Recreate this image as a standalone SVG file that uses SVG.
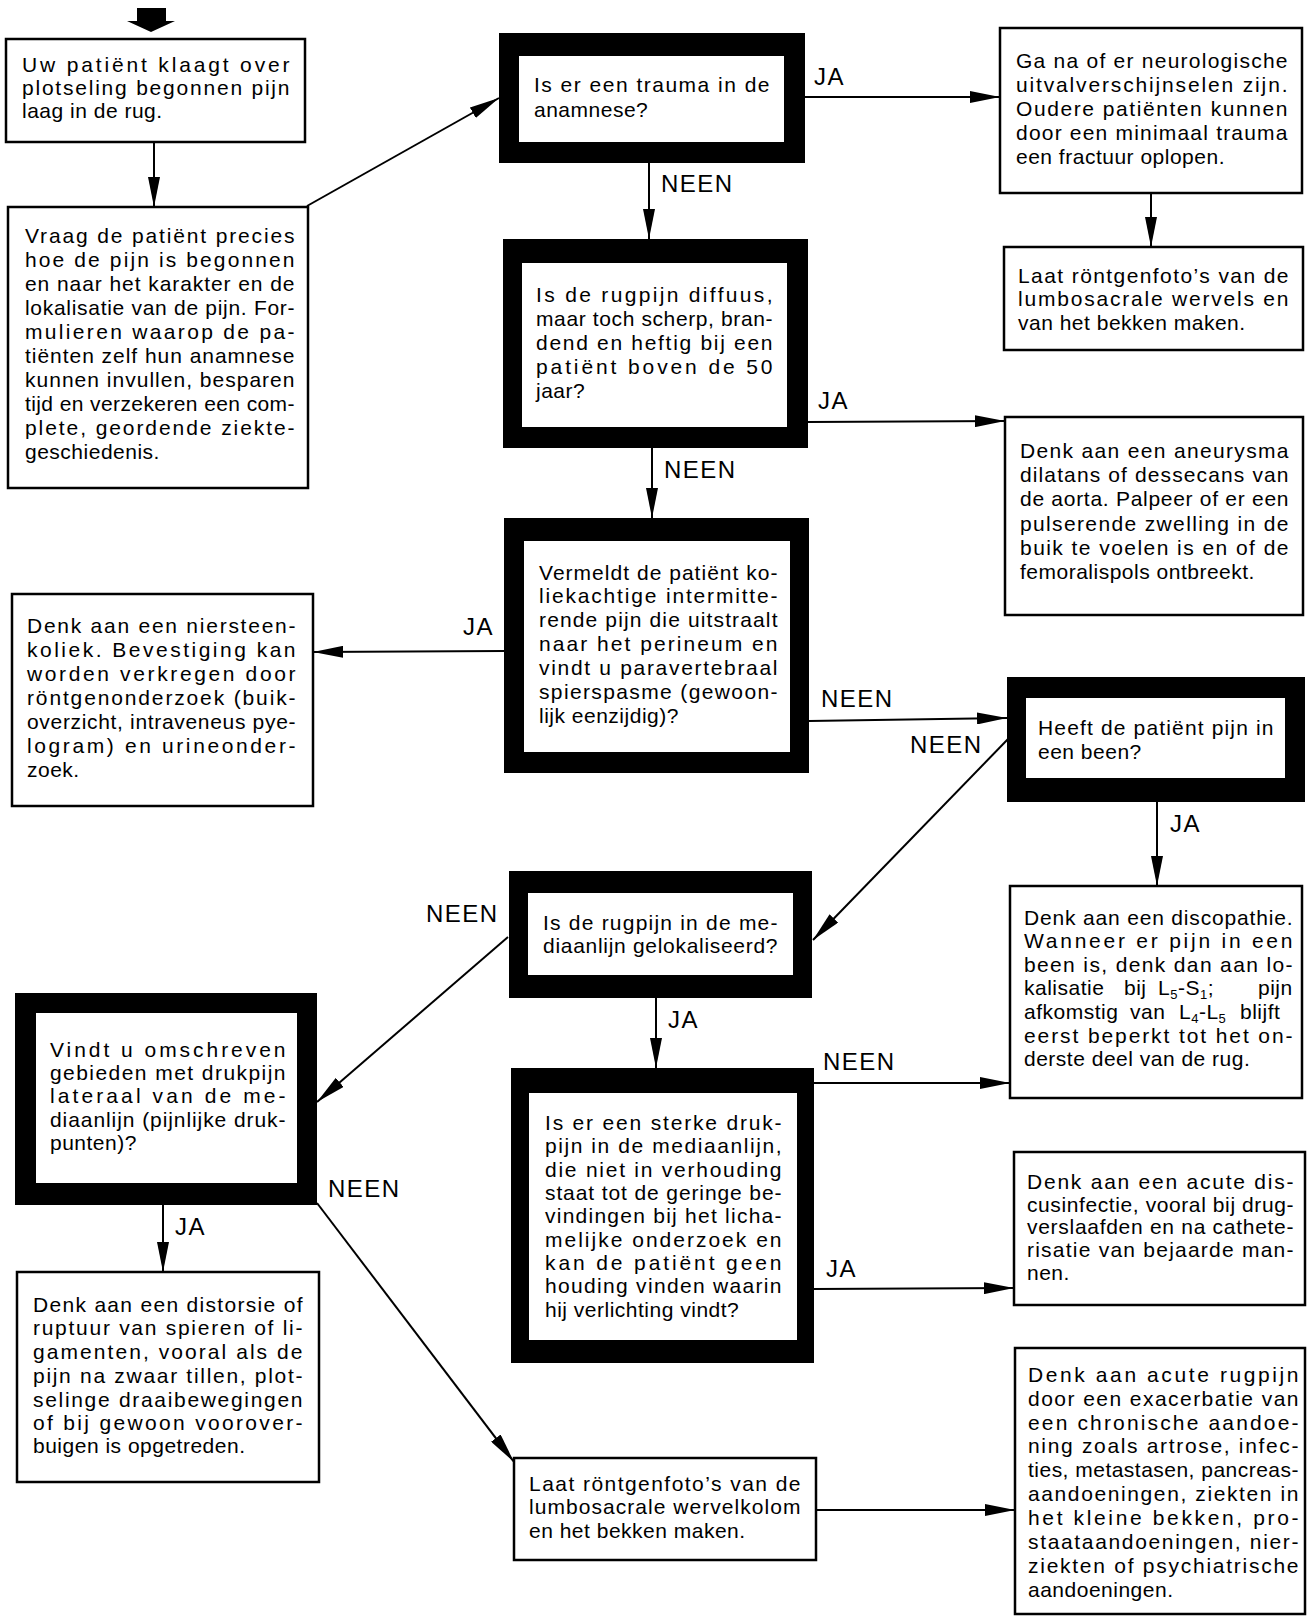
<svg xmlns="http://www.w3.org/2000/svg" width="1308" height="1617" viewBox="0 0 1308 1617">
<style>
.bg{fill:#fff}
.box{fill:#fff;stroke:#000;stroke-width:2.5}
.thk{fill:#000}
.inr{fill:#fff}
.t{font-family:"Liberation Sans",Arial,sans-serif;font-size:21px;letter-spacing:0.5px;fill:#000}
.lbl{font-family:"Liberation Sans",Arial,sans-serif;font-size:24px;letter-spacing:1.5px;fill:#000}
.sub{font-size:13px}
.c{stroke:#000;stroke-width:2;fill:none;marker-end:url(#ah)}
</style>
<defs>
<marker id="ah" markerUnits="userSpaceOnUse" markerWidth="30" markerHeight="12" refX="30" refY="6" orient="auto">
<path d="M0,0 L30,6 L0,12 z" fill="#000"/>
</marker>
</defs>
<rect class="bg" x="0" y="0" width="1308" height="1617"/>

<g id="start-arrow">
<polygon points="137,8 166,8 166,21 175,21 151,32 127,21 137,21" fill="#000"/>
</g>

<g id="connectors">
<line class="c" x1="154" y1="142" x2="154" y2="207"/>
<line class="c" x1="307" y1="206" x2="499" y2="98"/>
<line class="c" x1="805" y1="97" x2="1000" y2="97"/>
<line class="c" x1="1151" y1="193" x2="1151" y2="247"/>
<line class="c" x1="649" y1="163" x2="649" y2="239"/>
<line class="c" x1="808" y1="422" x2="1005" y2="421"/>
<line class="c" x1="652" y1="448" x2="652" y2="518"/>
<line class="c" x1="504" y1="651" x2="313" y2="652"/>
<line class="c" x1="809" y1="721" x2="1007" y2="718"/>
<line class="c" x1="1009" y1="738" x2="813" y2="940"/>
<line class="c" x1="1157" y1="802" x2="1157" y2="886"/>
<line class="c" x1="508" y1="937" x2="317" y2="1102"/>
<line class="c" x1="656" y1="998" x2="656" y2="1068"/>
<line class="c" x1="814" y1="1083" x2="1010" y2="1083"/>
<line class="c" x1="814" y1="1289" x2="1014" y2="1288"/>
<line class="c" x1="163" y1="1205" x2="163" y2="1272"/>
<line class="c" x1="317" y1="1203" x2="514" y2="1462"/>
<line class="c" x1="816" y1="1510" x2="1015" y2="1510"/>
</g>

<g id="labels">
<text class="lbl" x="814" y="85">JA</text>
<text class="lbl" x="661" y="192">NEEN</text>
<text class="lbl" x="818" y="409">JA</text>
<text class="lbl" x="664" y="478">NEEN</text>
<text class="lbl" x="463" y="635">JA</text>
<text class="lbl" x="821" y="707">NEEN</text>
<text class="lbl" x="910" y="753">NEEN</text>
<text class="lbl" x="1170" y="832">JA</text>
<text class="lbl" x="426" y="922">NEEN</text>
<text class="lbl" x="668" y="1028">JA</text>
<text class="lbl" x="823" y="1070">NEEN</text>
<text class="lbl" x="826" y="1277">JA</text>
<text class="lbl" x="175" y="1235">JA</text>
<text class="lbl" x="328" y="1197">NEEN</text>
</g>

<g id="n1">
<rect class="box" x="6" y="39" width="299" height="103"/>
<text class="t" x="22" y="72" textLength="268" lengthAdjust="spacing">Uw patiënt klaagt over</text>
<text class="t" x="22" y="95" textLength="268" lengthAdjust="spacing">plotseling begonnen pijn</text>
<text class="t" x="22" y="118">laag in de rug.</text>
</g>

<g id="n2">
<rect class="box" x="8" y="207" width="300" height="281"/>
<text class="t" x="25" y="243" textLength="270" lengthAdjust="spacing">Vraag de patiënt precies</text>
<text class="t" x="25" y="267" textLength="270" lengthAdjust="spacing">hoe de pijn is begonnen</text>
<text class="t" x="25" y="291" textLength="270" lengthAdjust="spacing">en naar het karakter en de</text>
<text class="t" x="25" y="315" textLength="270" lengthAdjust="spacing">lokalisatie van de pijn. For-</text>
<text class="t" x="25" y="339" textLength="270" lengthAdjust="spacing">mulieren waarop de pa-</text>
<text class="t" x="25" y="363" textLength="270" lengthAdjust="spacing">tiënten zelf hun anamnese</text>
<text class="t" x="25" y="387" textLength="270" lengthAdjust="spacing">kunnen invullen, besparen</text>
<text class="t" x="25" y="411" textLength="270" lengthAdjust="spacing">tijd en verzekeren een com-</text>
<text class="t" x="25" y="435" textLength="270" lengthAdjust="spacing">plete, geordende ziekte-</text>
<text class="t" x="25" y="459">geschiedenis.</text>
</g>

<g id="n3">
<rect class="thk" x="499" y="33" width="306" height="130"/>
<rect class="inr" x="519" y="56" width="265" height="86"/>
<text class="t" x="534" y="92" textLength="236" lengthAdjust="spacing">Is er een trauma in de</text>
<text class="t" x="534" y="117">anamnese?</text>
</g>

<g id="n4">
<rect class="box" x="1000" y="28" width="302" height="165"/>
<text class="t" x="1016" y="68" textLength="272" lengthAdjust="spacing">Ga na of er neurologische</text>
<text class="t" x="1016" y="92" textLength="272" lengthAdjust="spacing">uitvalverschijnselen zijn.</text>
<text class="t" x="1016" y="116" textLength="272" lengthAdjust="spacing">Oudere patiënten kunnen</text>
<text class="t" x="1016" y="140" textLength="272" lengthAdjust="spacing">door een minimaal trauma</text>
<text class="t" x="1016" y="164">een fractuur oplopen.</text>
</g>

<g id="n5">
<rect class="box" x="1004" y="247" width="299" height="103"/>
<text class="t" x="1018" y="283" textLength="271" lengthAdjust="spacing">Laat röntgenfoto’s van de</text>
<text class="t" x="1018" y="306" textLength="271" lengthAdjust="spacing">lumbosacrale wervels en</text>
<text class="t" x="1018" y="330">van het bekken maken.</text>
</g>

<g id="n6">
<rect class="thk" x="503" y="239" width="305" height="209"/>
<rect class="inr" x="522" y="263" width="265" height="164"/>
<text class="t" x="536" y="302" textLength="237" lengthAdjust="spacing">Is de rugpijn diffuus,</text>
<text class="t" x="536" y="326" textLength="237" lengthAdjust="spacing">maar toch scherp, bran-</text>
<text class="t" x="536" y="350" textLength="237" lengthAdjust="spacing">dend en heftig bij een</text>
<text class="t" x="536" y="374" textLength="237" lengthAdjust="spacing">patiënt boven de 50</text>
<text class="t" x="536" y="398">jaar?</text>
</g>

<g id="n7">
<rect class="box" x="1005" y="417" width="298" height="198"/>
<text class="t" x="1020" y="458" textLength="269" lengthAdjust="spacing">Denk aan een aneurysma</text>
<text class="t" x="1020" y="482" textLength="269" lengthAdjust="spacing">dilatans of dessecans van</text>
<text class="t" x="1020" y="506" textLength="269" lengthAdjust="spacing">de aorta. Palpeer of er een</text>
<text class="t" x="1020" y="531" textLength="269" lengthAdjust="spacing">pulserende zwelling in de</text>
<text class="t" x="1020" y="555" textLength="269" lengthAdjust="spacing">buik te voelen is en of de</text>
<text class="t" x="1020" y="579">femoralispols ontbreekt.</text>
</g>

<g id="n8">
<rect class="thk" x="504" y="518" width="305" height="255"/>
<rect class="inr" x="524" y="541" width="266" height="211"/>
<text class="t" x="539" y="580" textLength="239" lengthAdjust="spacing">Vermeldt de patiënt ko-</text>
<text class="t" x="539" y="603" textLength="239" lengthAdjust="spacing">liekachtige intermitte-</text>
<text class="t" x="539" y="627" textLength="239" lengthAdjust="spacing">rende pijn die uitstraalt</text>
<text class="t" x="539" y="651" textLength="239" lengthAdjust="spacing">naar het perineum en</text>
<text class="t" x="539" y="675" textLength="239" lengthAdjust="spacing">vindt u paravertebraal</text>
<text class="t" x="539" y="699" textLength="239" lengthAdjust="spacing">spierspasme (gewoon-</text>
<text class="t" x="539" y="723">lijk eenzijdig)?</text>
</g>

<g id="n9">
<rect class="box" x="12" y="594" width="301" height="212"/>
<text class="t" x="27" y="633" textLength="269" lengthAdjust="spacing">Denk aan een niersteen-</text>
<text class="t" x="27" y="657" textLength="269" lengthAdjust="spacing">koliek. Bevestiging kan</text>
<text class="t" x="27" y="681" textLength="269" lengthAdjust="spacing">worden verkregen door</text>
<text class="t" x="27" y="705" textLength="269" lengthAdjust="spacing">röntgenonderzoek (buik-</text>
<text class="t" x="27" y="729" textLength="269" lengthAdjust="spacing">overzicht, intraveneus pye-</text>
<text class="t" x="27" y="753" textLength="269" lengthAdjust="spacing">logram) en urineonder-</text>
<text class="t" x="27" y="777">zoek.</text>
</g>

<g id="n10">
<rect class="thk" x="1007" y="677" width="298" height="125"/>
<rect class="inr" x="1026" y="698" width="259" height="80"/>
<text class="t" x="1038" y="735" textLength="236" lengthAdjust="spacing">Heeft de patiënt pijn in</text>
<text class="t" x="1038" y="759">een been?</text>
</g>

<g id="n11">
<rect class="thk" x="509" y="871" width="303" height="127"/>
<rect class="inr" x="528" y="893" width="265" height="82"/>
<text class="t" x="543" y="930" textLength="235" lengthAdjust="spacing">Is de rugpijn in de me-</text>
<text class="t" x="543" y="953" textLength="235" lengthAdjust="spacing">diaanlijn gelokaliseerd?</text>
</g>

<g id="n12">
<rect class="thk" x="15" y="993" width="302" height="212"/>
<rect class="inr" x="36" y="1013" width="261" height="170"/>
<text class="t" x="50" y="1057" textLength="236" lengthAdjust="spacing">Vindt u omschreven</text>
<text class="t" x="50" y="1080" textLength="236" lengthAdjust="spacing">gebieden met drukpijn</text>
<text class="t" x="50" y="1103" textLength="236" lengthAdjust="spacing">lateraal van de me-</text>
<text class="t" x="50" y="1127" textLength="236" lengthAdjust="spacing">diaanlijn (pijnlijke druk-</text>
<text class="t" x="50" y="1150">punten)?</text>
</g>

<g id="n13">
<rect class="box" x="17" y="1272" width="302" height="210"/>
<text class="t" x="33" y="1312" textLength="270" lengthAdjust="spacing">Denk aan een distorsie of</text>
<text class="t" x="33" y="1335" textLength="270" lengthAdjust="spacing">ruptuur van spieren of li-</text>
<text class="t" x="33" y="1359" textLength="270" lengthAdjust="spacing">gamenten, vooral als de</text>
<text class="t" x="33" y="1383" textLength="270" lengthAdjust="spacing">pijn na zwaar tillen, plot-</text>
<text class="t" x="33" y="1407" textLength="270" lengthAdjust="spacing">selinge draaibewegingen</text>
<text class="t" x="33" y="1430" textLength="270" lengthAdjust="spacing">of bij gewoon voorover-</text>
<text class="t" x="33" y="1453">buigen is opgetreden.</text>
</g>

<g id="n14">
<rect class="thk" x="511" y="1068" width="303" height="295"/>
<rect class="inr" x="529" y="1093" width="268" height="247"/>
<text class="t" x="545" y="1130" textLength="237" lengthAdjust="spacing">Is er een sterke druk-</text>
<text class="t" x="545" y="1153" textLength="237" lengthAdjust="spacing">pijn in de mediaanlijn,</text>
<text class="t" x="545" y="1177" textLength="237" lengthAdjust="spacing">die niet in verhouding</text>
<text class="t" x="545" y="1200" textLength="237" lengthAdjust="spacing">staat tot de geringe be-</text>
<text class="t" x="545" y="1223" textLength="237" lengthAdjust="spacing">vindingen bij het licha-</text>
<text class="t" x="545" y="1247" textLength="237" lengthAdjust="spacing">melijke onderzoek en</text>
<text class="t" x="545" y="1270" textLength="237" lengthAdjust="spacing">kan de patiënt geen</text>
<text class="t" x="545" y="1293" textLength="237" lengthAdjust="spacing">houding vinden waarin</text>
<text class="t" x="545" y="1317">hij verlichting vindt?</text>
</g>

<g id="n15">
<rect class="box" x="514" y="1458" width="302" height="102"/>
<text class="t" x="529" y="1491" textLength="272" lengthAdjust="spacing">Laat röntgenfoto’s van de</text>
<text class="t" x="529" y="1514" textLength="272" lengthAdjust="spacing">lumbosacrale wervelkolom</text>
<text class="t" x="529" y="1538">en het bekken maken.</text>
</g>

<g id="n16">
<rect class="box" x="1015" y="1348" width="290" height="266"/>
<text class="t" x="1028" y="1382" textLength="271" lengthAdjust="spacing">Denk aan acute rugpijn</text>
<text class="t" x="1028" y="1406" textLength="271" lengthAdjust="spacing">door een exacerbatie van</text>
<text class="t" x="1028" y="1430" textLength="271" lengthAdjust="spacing">een chronische aandoe-</text>
<text class="t" x="1028" y="1453" textLength="271" lengthAdjust="spacing">ning zoals artrose, infec-</text>
<text class="t" x="1028" y="1477" textLength="271" lengthAdjust="spacing">ties, metastasen, pancreas-</text>
<text class="t" x="1028" y="1501" textLength="271" lengthAdjust="spacing">aandoeningen, ziekten in</text>
<text class="t" x="1028" y="1525" textLength="271" lengthAdjust="spacing">het kleine bekken, pro-</text>
<text class="t" x="1028" y="1549" textLength="271" lengthAdjust="spacing">staataandoeningen, nier-</text>
<text class="t" x="1028" y="1573" textLength="271" lengthAdjust="spacing">ziekten of psychiatrische</text>
<text class="t" x="1028" y="1597">aandoeningen.</text>
</g>

<g id="n17">
<rect class="box" x="1010" y="886" width="292" height="212"/>
<text class="t" x="1024" y="925" textLength="269" lengthAdjust="spacing">Denk aan een discopathie.</text>
<text class="t" x="1024" y="948" textLength="269" lengthAdjust="spacing">Wanneer er pijn in een</text>
<text class="t" x="1024" y="972" textLength="269" lengthAdjust="spacing">been is, denk dan aan lo-</text>
<text class="t" y="995"><tspan x="1024">kalisatie</tspan><tspan x="1124">bij</tspan><tspan x="1158">L</tspan><tspan class="sub" dy="4">5</tspan><tspan dy="-4">-S</tspan><tspan class="sub" dy="4">1</tspan><tspan dy="-4">;</tspan><tspan x="1258">pijn</tspan></text>
<text class="t" y="1019"><tspan x="1024">afkomstig</tspan><tspan x="1130">van</tspan><tspan x="1179">L</tspan><tspan class="sub" dy="4">4</tspan><tspan dy="-4">-L</tspan><tspan class="sub" dy="4">5</tspan><tspan x="1240" dy="-4">blijft</tspan></text>
<text class="t" x="1024" y="1043" textLength="269" lengthAdjust="spacing">eerst beperkt tot het on-</text>
<text class="t" x="1024" y="1066">derste deel van de rug.</text>
</g>

<g id="n18">
<rect class="box" x="1014" y="1152" width="291" height="153"/>
<text class="t" x="1027" y="1189" textLength="267" lengthAdjust="spacing">Denk aan een acute dis-</text>
<text class="t" x="1027" y="1212" textLength="267" lengthAdjust="spacing">cusinfectie, vooral bij drug-</text>
<text class="t" x="1027" y="1234" textLength="267" lengthAdjust="spacing">verslaafden en na cathete-</text>
<text class="t" x="1027" y="1257" textLength="267" lengthAdjust="spacing">risatie van bejaarde man-</text>
<text class="t" x="1027" y="1280">nen.</text>
</g>
</svg>
